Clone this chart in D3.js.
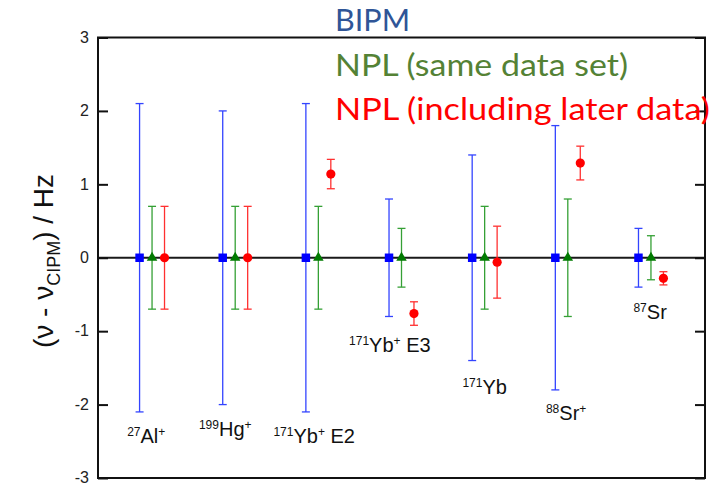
<!DOCTYPE html>
<html>
<head>
<meta charset="utf-8">
<script src="https://cdn.jsdelivr.net/npm/d3@7"></script>
<style>
  body { margin: 0; background: #fff; }
  svg { display: block; }
</style>
</head>
<body>
<svg class="viz"></svg>
<script>
var width = 720,
  height = 485;

// clock species, one per group along the x axis
var groups = [1, 2, 3, 4, 5, 6, 7];
var labelMass = ["27", "199", "171", "171", "171", "88", "87"];
var labelSymbol = ["Al", "Hg", "Yb", "Yb", "Yb", "Sr", "Sr"];
var labelCharge = ["+", "+", "+", "+", "", "+", ""];
var labelSuffix = ["", "", " E2", " E3", "", "", ""];
// where each species label sits, in data units
var labelX = [1.08, 2.03, 3.10, 4.01, 5.15, 6.13, 7.14];
var labelY = [-2.52, -2.43, -2.52, -1.29, -1.85, -2.21, -0.83];

// BIPM
var bipmGroup = [1, 2, 3, 4, 5, 6, 7];
var bipmValue = [0, 0, 0, 0, 0, 0, 0];
var bipmError = [2.1, 2.0, 2.1, 0.8, 1.4, 1.8, 0.4];

// NPL (same data set)
var nplSameGroup = [1, 2, 3, 4, 5, 6, 7];
var nplSameValue = [0, 0, 0, 0, 0, 0, 0];
var nplSameError = [0.7, 0.7, 0.7, 0.4, 0.7, 0.8, 0.3];

// NPL (including later data)
var nplLaterGroup = [1, 2, 3, 4, 5, 6, 7];
var nplLaterValue = [0, 0, 1.14, -0.76, -0.06, 1.29, -0.28];
var nplLaterError = [0.7, 0.7, 0.2, 0.16, 0.49, 0.23, 0.09];

var yTicks = [-3, -2, -1, 0, 1, 2, 3];

var legendNames = ["BIPM", "NPL (same data set)", "NPL (including later data)"];

var x = d3.scaleLinear().domain([0.5, 7.8]).range([98, 705]);
var y = d3.scaleLinear().domain([-3, 3]).range([478, 37.5]);

var svg = d3.select(".viz")
  .attr("width", width)
  .attr("height", height)
  .style("font-family", "'Liberation Sans', Arial, sans-serif");

function rows(g, v, e) {
  return g.map(function(d, i) {
    return { g: d, v: v[i], e: e[i] };
  });
}

var series = [
  { data: rows(bipmGroup, bipmValue, bipmError), dx: 0, bar: "#3344ff", fill: "#0000ff", marker: "square" },
  { data: rows(nplSameGroup, nplSameValue, nplSameError), dx: 0.15, bar: "#35a035", fill: "#007a00", marker: "triangle" },
  { data: rows(nplLaterGroup, nplLaterValue, nplLaterError), dx: 0.3, bar: "#ff3030", fill: "#ff0000", marker: "circle" }
];

// zero line
svg.append("line")
  .attr("x1", x.range()[0]).attr("x2", x.range()[1])
  .attr("y1", y(0)).attr("y2", y(0))
  .attr("stroke", "#1a1a1a")
  .attr("stroke-width", 2);

// left and right axes, ticks pointing inward
var leftAxis = d3.axisLeft(y).tickValues(yTicks).tickSizeInner(-10).tickSizeOuter(0).tickFormat(d => String(d));
var gl = svg.append("g").attr("transform", "translate(" + x.range()[0] + ",0)").call(leftAxis);
gl.select(".domain").remove();
gl.selectAll(".tick line").attr("stroke", "#111").attr("stroke-width", 2);
gl.selectAll(".tick text")
  .attr("x", -9)
  .attr("dy", "0.3em")
  .attr("fill", "#222")
  .style("font-size", "16px")
  .style("font-family", "'Liberation Sans', Arial, sans-serif");

var rightAxis = d3.axisRight(y).tickValues(yTicks).tickSizeInner(-10).tickSizeOuter(0).tickFormat("");
var gr = svg.append("g").attr("transform", "translate(" + x.range()[1] + ",0)").call(rightAxis);
gr.select(".domain").remove();
gr.selectAll(".tick line").attr("stroke", "#111").attr("stroke-width", 2);

// frame
svg.append("rect")
  .attr("x", x.range()[0]).attr("y", y.range()[1])
  .attr("width", x.range()[1] - x.range()[0])
  .attr("height", y.range()[0] - y.range()[1])
  .attr("fill", "none")
  .attr("stroke", "#111")
  .attr("stroke-width", 2);

// error bars and markers
var cap = 4;
series.forEach(function(s) {
  var g = svg.append("g");
  var bars = g.selectAll("g.bar").data(s.data).enter().append("g").attr("class", "bar");
  bars.append("line")
    .attr("x1", d => x(d.g + s.dx)).attr("x2", d => x(d.g + s.dx))
    .attr("y1", d => y(d.v - d.e)).attr("y2", d => y(d.v + d.e))
    .attr("stroke", s.bar).attr("stroke-width", 1.3);
  bars.append("line")
    .attr("x1", d => x(d.g + s.dx) - cap).attr("x2", d => x(d.g + s.dx) + cap)
    .attr("y1", d => y(d.v + d.e)).attr("y2", d => y(d.v + d.e))
    .attr("stroke", s.bar).attr("stroke-width", 1.3);
  bars.append("line")
    .attr("x1", d => x(d.g + s.dx) - cap).attr("x2", d => x(d.g + s.dx) + cap)
    .attr("y1", d => y(d.v - d.e)).attr("y2", d => y(d.v - d.e))
    .attr("stroke", s.bar).attr("stroke-width", 1.3);

  if (s.marker == "circle") {
    bars.append("circle")
      .attr("cx", d => x(d.g + s.dx)).attr("cy", d => y(d.v))
      .attr("r", 4.6).attr("fill", s.fill);
  } else {
    var sym = s.marker == "square" ? d3.symbol(d3.symbolSquare).size(72) : d3.symbol(d3.symbolTriangle).size(48);
    bars.append("path")
      .attr("d", sym)
      .attr("transform", d => "translate(" + x(d.g + s.dx) + "," + y(d.v) + ")")
      .attr("fill", s.fill);
  }
});

// species labels
var labels = svg.append("g").selectAll("text").data(groups).enter().append("text")
  .attr("x", (d, i) => x(labelX[i]))
  .attr("y", (d, i) => y(labelY[i]))
  .attr("text-anchor", "middle")
  .attr("fill", "#111")
  .style("font-size", "20px");
labels.append("tspan").attr("dy", -7).style("font-size", "12px").text((d, i) => labelMass[i]);
labels.append("tspan").attr("dy", 7).text((d, i) => labelSymbol[i]);
labels.append("tspan").attr("dy", -7).style("font-size", "12px").text((d, i) => labelCharge[i]);
labels.append("tspan").attr("dy", 7).text((d, i) => labelSuffix[i]);

// y axis title
var yt = svg.append("text")
  .attr("transform", "translate(53,261) rotate(-90)")
  .attr("text-anchor", "middle")
  .attr("fill", "#111")
  .style("font-size", "28px");
yt.append("tspan").text("(\u03bd - \u03bd");
yt.append("tspan").attr("dy", 7).style("font-size", "18px").text("CIPM");
yt.append("tspan").attr("dy", -7).text(") / Hz");

// legend (text only, in the series colours)
var legendColors = ["#2f5597", "#548235", "#ff0000"];
var legendWidths = [75, 293, 375];
svg.append("g").selectAll("text").data(legendNames).enter().append("text")
  .attr("x", 335)
  .attr("y", (d, i) => 31 + i * 44.5)
  .attr("fill", (d, i) => legendColors[i])
  .attr("textLength", (d, i) => legendWidths[i])
  .attr("lengthAdjust", "spacingAndGlyphs")
  .style("font-family", "Lato, 'Open Sans', sans-serif")
  .style("font-size", "30px")
  .text(d => d);
</script>
</body>
</html>
